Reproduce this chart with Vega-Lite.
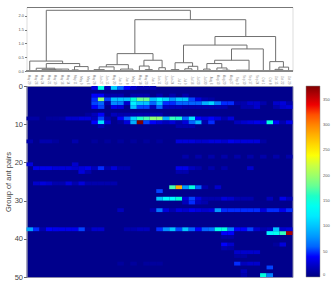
{"$schema":"https://vega.github.io/schema/vega-lite/v6.json","padding":{"left":3.5,"top":6,"right":0,"bottom":0},"background":"white","bounds":"flush","spacing":15,
"config":{"axis":{"grid":false},"axisX":{"labels":false,"ticks":false},"axisY":{}},
"datasets":{"links":[
{"a":3.05,"b":25.26,"p":0.36,"q":1.86,"h":2.2},{"a":0.5,"b":5.57,"p":0,"q":0.27,"h":0.36},{"a":3.05,"b":8.2,"p":0.1,"q":0.16,"h":0.27},{"a":1.5,"b":4.4,"p":0,"q":0.06,"h":0.1},{"a":2.4,"b":4.4,"p":0,"q":0.03,"h":0.06},{"a":3.5,"b":5.5,"p":0,"q":0,"h":0.03},{"a":4.5,"b":6.5,"p":0,"q":0,"h":0.07},{"a":7.4,"b":9.5,"p":0.04,"q":0,"h":0.16},{"a":7,"b":8,"p":0,"q":0,"h":0.04},
{"a":16.7,"b":33.8,"p":0.63,"q":1.25,"h":1.86},{"a":13.97,"b":19.5,"p":0.23,"q":0.39,"h":0.63},{"a":12.3,"b":15.7,"p":0.15,"q":0.07,"h":0.23},{"a":11.2,"b":13.5,"p":0.05,"q":0,"h":0.15},{"a":10.4,"b":12,"p":0,"q":0,"h":0.05},{"a":14.5,"b":16.4,"p":0,"q":0,"h":0.07},{"a":18.1,"b":20.9,"p":0.18,"q":0.12,"h":0.39},{"a":17.4,"b":18.9,"p":0,"q":0.05,"h":0.18},{"a":18.3,"b":19.4,"p":0,"q":0,"h":0.05},{"a":20.4,"b":21.4,"p":0,"q":0,"h":0.12},
{"a":29.05,"b":38.4,"p":0.94,"q":0.34,"h":1.25},{"a":24.2,"b":33.98,"p":0.3,"q":0.8,"h":0.94},{"a":22.9,"b":25.6,"p":0.05,"q":0.17,"h":0.3},{"a":22.3,"b":23.5,"p":0,"q":0,"h":0.05},{"a":24.95,"b":26.4,"p":0.08,"q":0,"h":0.17},{"a":24.4,"b":25.5,"p":0,"q":0,"h":0.08},{"a":31.6,"b":36.5,"p":0.39,"q":0,"h":0.8},{"a":29,"b":34.3,"p":0.27,"q":0.03,"h":0.39},{"a":27.8,"b":30.1,"p":0.07,"q":0.11,"h":0.27},{"a":27.3,"b":28.3,"p":0,"q":0,"h":0.07},{"a":29.35,"b":30.9,"p":0,"q":0.03,"h":0.11},{"a":30.2,"b":31.3,"p":0,"q":0,"h":0.03},{"a":32.3,"b":34.3,"p":0,"q":0,"h":0.03},{"a":37.5,"b":39.6,"p":0,"q":0.14,"h":0.34},{"a":38.9,"b":40.4,"p":0.06,"q":0,"h":0.14},{"a":38.3,"b":39.5,"p":0,"q":0,"h":0.06}
],
"cells":[
{"c":10,"r":0,"s":1,"v":30},{"c":11,"r":0,"s":1,"v":150},{"c":12,"r":0,"s":1,"v":20},{"c":13,"r":0,"s":1,"v":105},{"c":14,"r":0,"s":1,"v":60},{"c":15,"r":0,"s":1,"v":40},{"c":16,"r":0,"s":1,"v":25},{"c":17,"r":0,"s":1,"v":15},{"c":18,"r":0,"s":1,"v":15},{"c":19,"r":0,"s":1,"v":15},
{"c":10,"r":2,"s":3,"v":40},{"c":11,"r":2,"s":3,"v":40},{"c":12,"r":2,"s":3,"v":15},{"c":13,"r":2,"s":3,"v":15},{"c":14,"r":2,"s":3,"v":15},{"c":16,"r":2,"s":3,"v":15},{"c":17,"r":2,"s":3,"v":15},{"c":18,"r":2,"s":3,"v":15},{"c":20,"r":2,"s":3,"v":15},{"c":22,"r":2,"s":3,"v":15},{"c":24,"r":2,"s":3,"v":15},
{"c":10,"r":3,"s":4,"v":45},{"c":11,"r":3,"s":4,"v":195},{"c":12,"r":3,"s":4,"v":50},{"c":13,"r":3,"s":4,"v":100},{"c":14,"r":3,"s":4,"v":100},{"c":15,"r":3,"s":4,"v":100},{"c":16,"r":3,"s":4,"v":150},{"c":17,"r":3,"s":4,"v":180},{"c":18,"r":3,"s":4,"v":180},{"c":19,"r":3,"s":4,"v":100},{"c":20,"r":3,"s":4,"v":130},{"c":21,"r":3,"s":4,"v":110},{"c":22,"r":3,"s":4,"v":80},{"c":23,"r":3,"s":4,"v":105},{"c":24,"r":3,"s":4,"v":105},{"c":25,"r":3,"s":4,"v":50},{"c":26,"r":3,"s":4,"v":30},{"c":27,"r":3,"s":4,"v":15},{"c":28,"r":3,"s":4,"v":12},
{"c":10,"r":4,"s":5,"v":50},{"c":11,"r":4,"s":5,"v":60},{"c":12,"r":4,"s":5,"v":15},{"c":13,"r":4,"s":5,"v":75},{"c":14,"r":4,"s":5,"v":70},{"c":15,"r":4,"s":5,"v":25},{"c":16,"r":4,"s":5,"v":125},{"c":17,"r":4,"s":5,"v":100},{"c":18,"r":4,"s":5,"v":100},{"c":19,"r":4,"s":5,"v":60},{"c":20,"r":4,"s":5,"v":100},{"c":21,"r":4,"s":5,"v":45},{"c":22,"r":4,"s":5,"v":45},{"c":23,"r":4,"s":5,"v":60},{"c":24,"r":4,"s":5,"v":60},{"c":25,"r":4,"s":5,"v":60},{"c":26,"r":4,"s":5,"v":60},{"c":27,"r":4,"s":5,"v":90},{"c":28,"r":4,"s":5,"v":110},{"c":29,"r":4,"s":5,"v":70},{"c":30,"r":4,"s":5,"v":45},{"c":31,"r":4,"s":5,"v":45},{"c":32,"r":4,"s":5,"v":15},{"c":33,"r":4,"s":5,"v":15},{"c":34,"r":4,"s":5,"v":25},{"c":35,"r":4,"s":5,"v":25},{"c":36,"r":4,"s":5,"v":15},{"c":38,"r":4,"s":5,"v":25},{"c":39,"r":4,"s":5,"v":30},{"c":40,"r":4,"s":5,"v":15},
{"c":10,"r":5,"s":6,"v":40},{"c":11,"r":5,"s":6,"v":50},{"c":13,"r":5,"s":6,"v":35},{"c":14,"r":5,"s":6,"v":30},{"c":16,"r":5,"s":6,"v":100},{"c":17,"r":5,"s":6,"v":50},{"c":18,"r":5,"s":6,"v":50},{"c":19,"r":5,"s":6,"v":20},{"c":20,"r":5,"s":6,"v":60},{"c":21,"r":5,"s":6,"v":20},{"c":22,"r":5,"s":6,"v":20},{"c":23,"r":5,"s":6,"v":20},{"c":24,"r":5,"s":6,"v":15},{"c":25,"r":5,"s":6,"v":15},{"c":26,"r":5,"s":6,"v":15},{"c":27,"r":5,"s":6,"v":15},{"c":28,"r":5,"s":6,"v":15},{"c":29,"r":5,"s":6,"v":15},{"c":30,"r":5,"s":6,"v":15},{"c":33,"r":5,"s":6,"v":15},{"c":34,"r":5,"s":6,"v":15},{"c":35,"r":5,"s":6,"v":25},{"c":38,"r":5,"s":6,"v":15},{"c":39,"r":5,"s":6,"v":25},{"c":40,"r":5,"s":6,"v":30},
{"c":9,"r":7,"s":8,"v":10},{"c":10,"r":7,"s":8,"v":20},{"c":11,"r":7,"s":8,"v":40},{"c":13,"r":7,"s":8,"v":20},{"c":14,"r":7,"s":8,"v":15},{"c":15,"r":7,"s":8,"v":15},{"c":16,"r":7,"s":8,"v":15},{"c":17,"r":7,"s":8,"v":15},{"c":18,"r":7,"s":8,"v":15},{"c":19,"r":7,"s":8,"v":15},{"c":20,"r":7,"s":8,"v":15},
{"c":0,"r":8,"s":9,"v":12},{"c":1,"r":8,"s":9,"v":12},{"c":3,"r":8,"s":9,"v":10},{"c":4,"r":8,"s":9,"v":10},{"c":5,"r":8,"s":9,"v":12},{"c":6,"r":8,"s":9,"v":25},{"c":7,"r":8,"s":9,"v":25},{"c":8,"r":8,"s":9,"v":30},{"c":9,"r":8,"s":9,"v":30},{"c":10,"r":8,"s":9,"v":20},{"c":11,"r":8,"s":9,"v":50},{"c":12,"r":8,"s":9,"v":15},{"c":14,"r":8,"s":9,"v":40},{"c":15,"r":8,"s":9,"v":60},{"c":16,"r":8,"s":9,"v":110},{"c":17,"r":8,"s":9,"v":160},{"c":18,"r":8,"s":9,"v":170},{"c":19,"r":8,"s":9,"v":195},{"c":20,"r":8,"s":9,"v":195},{"c":21,"r":8,"s":9,"v":90},{"c":22,"r":8,"s":9,"v":165},{"c":23,"r":8,"s":9,"v":160},{"c":24,"r":8,"s":9,"v":60},{"c":25,"r":8,"s":9,"v":120},{"c":26,"r":8,"s":9,"v":40},{"c":27,"r":8,"s":9,"v":30},{"c":28,"r":8,"s":9,"v":40},{"c":29,"r":8,"s":9,"v":30},{"c":30,"r":8,"s":9,"v":15},{"c":31,"r":8,"s":9,"v":30},
{"c":10,"r":9,"s":10,"v":40},{"c":11,"r":9,"s":10,"v":115},{"c":12,"r":9,"s":10,"v":30},{"c":14,"r":9,"s":10,"v":10},{"c":15,"r":9,"s":10,"v":30},{"c":16,"r":9,"s":10,"v":90},{"c":17,"r":9,"s":10,"v":377},{"c":18,"r":9,"s":10,"v":50},{"c":19,"r":9,"s":10,"v":40},{"c":20,"r":9,"s":10,"v":30},{"c":21,"r":9,"s":10,"v":20},{"c":22,"r":9,"s":10,"v":30},{"c":23,"r":9,"s":10,"v":15},{"c":24,"r":9,"s":10,"v":30},{"c":25,"r":9,"s":10,"v":60},{"c":26,"r":9,"s":10,"v":95},{"c":27,"r":9,"s":10,"v":15},{"c":28,"r":9,"s":10,"v":45},{"c":32,"r":9,"s":10,"v":20},{"c":33,"r":9,"s":10,"v":25},{"c":34,"r":9,"s":10,"v":30},{"c":35,"r":9,"s":10,"v":35},{"c":36,"r":9,"s":10,"v":30},{"c":37,"r":9,"s":10,"v":150},{"c":38,"r":9,"s":10,"v":40},{"c":39,"r":9,"s":10,"v":15},{"c":40,"r":9,"s":10,"v":35},
{"c":11,"r":10,"s":11,"v":15},{"c":23,"r":10,"s":11,"v":15},{"c":24,"r":10,"s":11,"v":15},{"c":25,"r":10,"s":11,"v":15},
{"c":0,"r":14,"s":15,"v":15},{"c":2,"r":14,"s":15,"v":15},{"c":3,"r":14,"s":15,"v":15},{"c":4,"r":14,"s":15,"v":10},{"c":7,"r":14,"s":15,"v":15},{"c":10,"r":14,"s":15,"v":10},{"c":12,"r":14,"s":15,"v":10},{"c":14,"r":14,"s":15,"v":10},{"c":16,"r":14,"s":15,"v":10},{"c":18,"r":14,"s":15,"v":10},{"c":20,"r":14,"s":15,"v":10},{"c":23,"r":14,"s":15,"v":30},{"c":24,"r":14,"s":15,"v":30},{"c":25,"r":14,"s":15,"v":30},{"c":26,"r":14,"s":15,"v":25},{"c":27,"r":14,"s":15,"v":25},{"c":28,"r":14,"s":15,"v":30},{"c":29,"r":14,"s":15,"v":30},{"c":30,"r":14,"s":15,"v":25},{"c":31,"r":14,"s":15,"v":35},{"c":32,"r":14,"s":15,"v":30},{"c":33,"r":14,"s":15,"v":30},{"c":34,"r":14,"s":15,"v":30},{"c":35,"r":14,"s":15,"v":30},{"c":36,"r":14,"s":15,"v":12},
{"c":24,"r":18,"s":19,"v":14},{"c":26,"r":18,"s":19,"v":14},{"c":28,"r":18,"s":19,"v":14},{"c":30,"r":18,"s":19,"v":14},{"c":32,"r":18,"s":19,"v":14},{"c":34,"r":18,"s":19,"v":14},{"c":36,"r":18,"s":19,"v":14},{"c":38,"r":18,"s":19,"v":14},{"c":40,"r":18,"s":19,"v":14},
{"c":0,"r":20,"s":21,"v":30},{"c":7,"r":20,"s":21,"v":25},
{"c":1,"r":21,"s":22,"v":35},{"c":2,"r":21,"s":22,"v":35},{"c":3,"r":21,"s":22,"v":35},{"c":4,"r":21,"s":22,"v":30},{"c":5,"r":21,"s":22,"v":30},{"c":6,"r":21,"s":22,"v":30},{"c":7,"r":21,"s":22,"v":25},{"c":8,"r":21,"s":22,"v":30},{"c":9,"r":21,"s":22,"v":35},{"c":10,"r":21,"s":22,"v":20},{"c":11,"r":21,"s":22,"v":45},{"c":12,"r":21,"s":22,"v":15},{"c":13,"r":21,"s":22,"v":30},{"c":14,"r":21,"s":22,"v":15},{"c":15,"r":21,"s":22,"v":15},{"c":23,"r":21,"s":22,"v":35},{"c":24,"r":21,"s":22,"v":35},{"c":25,"r":21,"s":22,"v":20},{"c":26,"r":21,"s":22,"v":14},{"c":28,"r":21,"s":22,"v":14},{"c":30,"r":21,"s":22,"v":14},{"c":34,"r":21,"s":22,"v":25},
{"c":8,"r":22,"s":23,"v":30},{"c":9,"r":22,"s":23,"v":15},{"c":23,"r":22,"s":23,"v":15},{"c":24,"r":22,"s":23,"v":15},
{"c":1,"r":25,"s":26,"v":25},{"c":2,"r":25,"s":26,"v":30},{"c":3,"r":25,"s":26,"v":25},{"c":4,"r":25,"s":26,"v":15},{"c":5,"r":25,"s":26,"v":15},{"c":6,"r":25,"s":26,"v":30},{"c":7,"r":25,"s":26,"v":15},{"c":8,"r":25,"s":26,"v":30},{"c":9,"r":25,"s":26,"v":15},{"c":10,"r":25,"s":26,"v":15},{"c":11,"r":25,"s":26,"v":15},{"c":12,"r":25,"s":26,"v":15},{"c":13,"r":25,"s":26,"v":15},
{"c":22,"r":26,"s":27,"v":170},{"c":23,"r":26,"s":27,"v":280},{"c":24,"r":26,"s":27,"v":80},{"c":25,"r":26,"s":27,"v":150},{"c":26,"r":26,"s":27,"v":60},{"c":27,"r":26,"s":27,"v":15},{"c":29,"r":26,"s":27,"v":25},
{"c":20,"r":27,"s":28,"v":50},
{"c":20,"r":29,"s":30,"v":100},{"c":21,"r":29,"s":30,"v":130},{"c":22,"r":29,"s":30,"v":130},{"c":23,"r":29,"s":30,"v":155},{"c":24,"r":29,"s":30,"v":30},{"c":25,"r":29,"s":30,"v":50},{"c":26,"r":29,"s":30,"v":30},{"c":27,"r":29,"s":30,"v":15},{"c":28,"r":29,"s":30,"v":15},{"c":29,"r":29,"s":30,"v":15},{"c":30,"r":29,"s":30,"v":30},{"c":31,"r":29,"s":30,"v":25},{"c":32,"r":29,"s":30,"v":15},{"c":33,"r":29,"s":30,"v":15},{"c":34,"r":29,"s":30,"v":15},{"c":37,"r":29,"s":30,"v":20},{"c":39,"r":29,"s":30,"v":35},{"c":40,"r":29,"s":30,"v":20},
{"c":24,"r":30,"s":31,"v":20},{"c":25,"r":30,"s":31,"v":45},{"c":26,"r":30,"s":31,"v":20},{"c":27,"r":30,"s":31,"v":15},
{"c":14,"r":32,"s":33,"v":20},{"c":19,"r":32,"s":33,"v":15},{"c":20,"r":32,"s":33,"v":65},{"c":21,"r":32,"s":33,"v":30},{"c":22,"r":32,"s":33,"v":15},{"c":23,"r":32,"s":33,"v":30},{"c":24,"r":32,"s":33,"v":25},{"c":25,"r":32,"s":33,"v":35},{"c":26,"r":32,"s":33,"v":30},{"c":27,"r":32,"s":33,"v":25},{"c":28,"r":32,"s":33,"v":30},{"c":29,"r":32,"s":33,"v":80},{"c":30,"r":32,"s":33,"v":45},{"c":31,"r":32,"s":33,"v":45},{"c":32,"r":32,"s":33,"v":45},{"c":33,"r":32,"s":33,"v":45},{"c":34,"r":32,"s":33,"v":45},{"c":35,"r":32,"s":33,"v":45},{"c":36,"r":32,"s":33,"v":30},{"c":37,"r":32,"s":33,"v":45},{"c":38,"r":32,"s":33,"v":45},{"c":39,"r":32,"s":33,"v":35},{"c":40,"r":32,"s":33,"v":45},
{"c":0,"r":37,"s":38,"v":85},{"c":1,"r":37,"s":38,"v":45},{"c":2,"r":37,"s":38,"v":15},{"c":3,"r":37,"s":38,"v":40},{"c":4,"r":37,"s":38,"v":35},{"c":5,"r":37,"s":38,"v":35},{"c":6,"r":37,"s":38,"v":35},{"c":7,"r":37,"s":38,"v":35},{"c":8,"r":37,"s":38,"v":50},{"c":9,"r":37,"s":38,"v":10},{"c":10,"r":37,"s":38,"v":25},{"c":11,"r":37,"s":38,"v":25},{"c":15,"r":37,"s":38,"v":15},{"c":16,"r":37,"s":38,"v":15},{"c":17,"r":37,"s":38,"v":20},{"c":18,"r":37,"s":38,"v":20},{"c":20,"r":37,"s":38,"v":45},{"c":21,"r":37,"s":38,"v":75},{"c":22,"r":37,"s":38,"v":100},{"c":23,"r":37,"s":38,"v":50},{"c":24,"r":37,"s":38,"v":100},{"c":25,"r":37,"s":38,"v":60},{"c":26,"r":37,"s":38,"v":40},{"c":27,"r":37,"s":38,"v":60},{"c":28,"r":37,"s":38,"v":65},{"c":29,"r":37,"s":38,"v":145},{"c":30,"r":37,"s":38,"v":150},{"c":31,"r":37,"s":38,"v":70},{"c":32,"r":37,"s":38,"v":40},{"c":33,"r":37,"s":38,"v":40},{"c":34,"r":37,"s":38,"v":50},{"c":35,"r":37,"s":38,"v":25},{"c":36,"r":37,"s":38,"v":15},{"c":37,"r":37,"s":38,"v":20},{"c":38,"r":37,"s":38,"v":100},{"c":39,"r":37,"s":38,"v":25},{"c":40,"r":37,"s":38,"v":30},
{"c":30,"r":38,"s":39,"v":40},{"c":31,"r":38,"s":39,"v":40},{"c":37,"r":38,"s":39,"v":125},{"c":38,"r":38,"s":39,"v":140},{"c":39,"r":38,"s":39,"v":165},{"c":40,"r":38,"s":39,"v":365},
{"c":30,"r":39,"s":40,"v":12},{"c":31,"r":39,"s":40,"v":12},{"c":30,"r":41,"s":42,"v":40},{"c":31,"r":41,"s":42,"v":25},{"c":38,"r":41,"s":42,"v":10},{"c":39,"r":41,"s":42,"v":30},{"c":30,"r":42,"s":43,"v":15},{"c":31,"r":42,"s":43,"v":12},
{"c":32,"r":43,"s":44,"v":25},{"c":33,"r":43,"s":44,"v":25},{"c":34,"r":43,"s":44,"v":25},{"c":35,"r":43,"s":44,"v":25},{"c":32,"r":44,"s":45,"v":12},{"c":33,"r":44,"s":45,"v":12},
{"c":32,"r":46,"s":47,"v":45},{"c":33,"r":46,"s":47,"v":20},{"c":34,"r":46,"s":47,"v":25},{"c":35,"r":46,"s":47,"v":25},{"c":14,"r":46,"s":47,"v":10},{"c":16,"r":46,"s":47,"v":10},{"c":18,"r":46,"s":47,"v":10},{"c":19,"r":46,"s":47,"v":10},{"c":20,"r":46,"s":47,"v":10},
{"c":37,"r":47,"s":48,"v":50},{"c":33,"r":48,"s":49,"v":20},
{"c":36,"r":49,"s":50,"v":150},{"c":37,"r":49,"s":50,"v":70},{"c":33,"r":49,"s":50,"v":15}
]},
"vconcat":[
{"width":266,"height":64,"view":{"stroke":"#dddddd"},"data":{"name":"links"},
"encoding":{"y":{"type":"quantitative","scale":{"domain":[0,2.32]},"axis":{"title":null,"values":[0,0.5,1,1.5,2],"format":".1f","labelFontSize":4,"labelColor":"#555555","labelOverlap":false,"labelSeparation":0,"tickSize":2,"tickColor":"#777777","domain":false,"labelPadding":1}},"x":{"type":"quantitative","scale":{"domain":[0,41]},"axis":{"orient":"top","title":null,"labels":false,"ticks":false,"domainColor":"#777777"}}},
"layer":[
{"mark":{"type":"rule","color":"#707070","strokeWidth":1},"encoding":{"x":{"field":"a"},"x2":{"field":"b"},"y":{"field":"h"}}},
{"mark":{"type":"rule","color":"#707070","strokeWidth":1},"encoding":{"x":{"field":"a"},"y":{"field":"p"},"y2":{"field":"h"}}},
{"mark":{"type":"rule","color":"#707070","strokeWidth":1},"encoding":{"x":{"field":"b"},"y":{"field":"q"},"y2":{"field":"h"}}},
{"mark":{"type":"rule","color":"#888888","strokeWidth":1},"encoding":{"x":null,"y":{"datum":0}}}
]},
{"width":266,"height":191,"view":{"fill":"#00008c","stroke":"#8888aa"},"data":{"name":"cells"},
"mark":{"type":"rect","strokeWidth":0},
"encoding":{
"x":{"field":"c","type":"ordinal","scale":{"domain":[0,1,2,3,4,5,6,7,8,9,10,11,12,13,14,15,16,17,18,19,20,21,22,23,24,25,26,27,28,29,30,31,32,33,34,35,36,37,38,39,40],"paddingInner":0,"paddingOuter":0},"axis":{"orient":"top","title":null,"domain":false,"ticks":false,"labels":true,"labelAngle":90,"labelFontSize":3,"labelColor":"#888888","labelPadding":2,"labelOverlap":false,"labelExpr":"['May 29','May 26','May 24','May 21','May 19','May 16','May 14','May 11','May 9','May 6','May 28','Jun 27','Jun 15','May 30','Jun 3','Jun 8','May 7','May 18','May 23','Jun 1','Jun 11','Jun 20','Jun 24','Jul 2','Jul 9','Jul 16','Jul 23','Jul 30','Aug 6','Aug 13','Aug 20','Aug 27','Sep 3','Sep 10','Sep 17','Sep 24','Oct 1','Oct 8','Oct 15','Oct 22','Oct 29'][datum.value]"}},
"y":{"field":"r","type":"quantitative","scale":{"domain":[0,50],"reverse":true},"axis":{"title":"Group of ant pairs","titleFontSize":7.5,"titleFontWeight":"normal","titleColor":"#444444","titlePadding":2,"values":[0,10,20,30,40,50],"labelFontSize":7.5,"labelColor":"#444444","tickSize":3,"tickColor":"#666666","domainColor":"#8888aa","labelPadding":1}},
"y2":{"field":"s"},
"color":{"field":"v","type":"quantitative","scale":{"domain":[0,41,132,188,241,335,377],"range":["#000080","#0000ff","#00ffff","#7fff7f","#ffff00","#ff0000","#800000"]},
"legend":{"orient":"none","legendX":279.5,"legendY":79,"title":null,"gradientLength":191,"gradientThickness":14,"gradientStrokeColor":"#888888","gradientStrokeWidth":0.5,"values":[0,50,100,150,200,250,300,350],"labelFontSize":4,"labelColor":"#555555","labelOffset":3}}
}}
]}
